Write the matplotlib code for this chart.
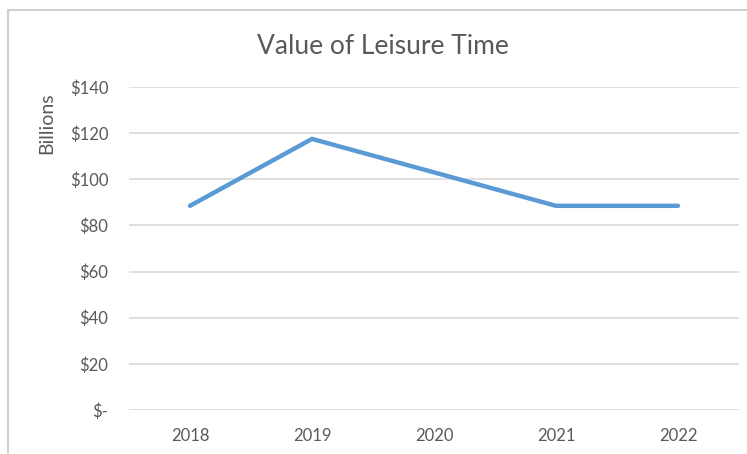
import matplotlib.pyplot as plt
from matplotlib.patches import Rectangle
from matplotlib.ticker import FuncFormatter

years = ["2018", "2019", "2020", "2021", "2022"]
values = [88.5, 117.5, 103, 88.5, 88.5]
yticks = [0, 20, 40, 60, 80, 100, 120, 140]

plt.rcParams['font.family'] = ['Lato', 'DejaVu Sans']
W, H = 747, 454
fig = plt.figure(figsize=(W / 100, H / 100), dpi=100)

# chart border (cut off at right/bottom like a screenshot)
fig.patches.append(Rectangle((8 / W, -0.1), 1.2, (H - 10) / H + 0.1, transform=fig.transFigure,
                             fill=False, edgecolor='#d0d0d0', linewidth=1.5))

ax = fig.add_axes([129 / W, (H - 410) / H, (739 - 129) / W, (410 - 87) / H])
x = range(len(years))
ax.plot(x, values, color='#5B9BD5', linewidth=3.2, solid_capstyle='round', solid_joinstyle='miter')

ax.set_xlim(-0.5, len(years) - 0.5)
ax.set_ylim(0, 140)
ax.set_yticks(yticks)
ax.yaxis.set_major_formatter(FuncFormatter(lambda v, p: "$-" if v == 0 else f"${v:.0f}"))
ax.set_xticks(list(x))
ax.set_xticklabels(years)
ax.grid(axis='y', color='#d9d9d9', linewidth=1.2)
ax.set_axisbelow(True)
for s in ax.spines.values():
    s.set_visible(False)
ax.tick_params(axis='y', length=0, labelsize=12, colors='#595959', pad=15)
ax.tick_params(axis='x', length=0, labelsize=12, colors='#595959', pad=13)

fig.text(383 / W, 1 - 46 / H, "Value of Leisure Time", ha='center', va='center',
         fontsize=19, color='#595959')
fig.text(47 / W, 1 - 123 / H, "Billions", ha='center', va='center', rotation=90,
         fontsize=14, color='#595959')

fig.savefig("out.png", dpi=100)
